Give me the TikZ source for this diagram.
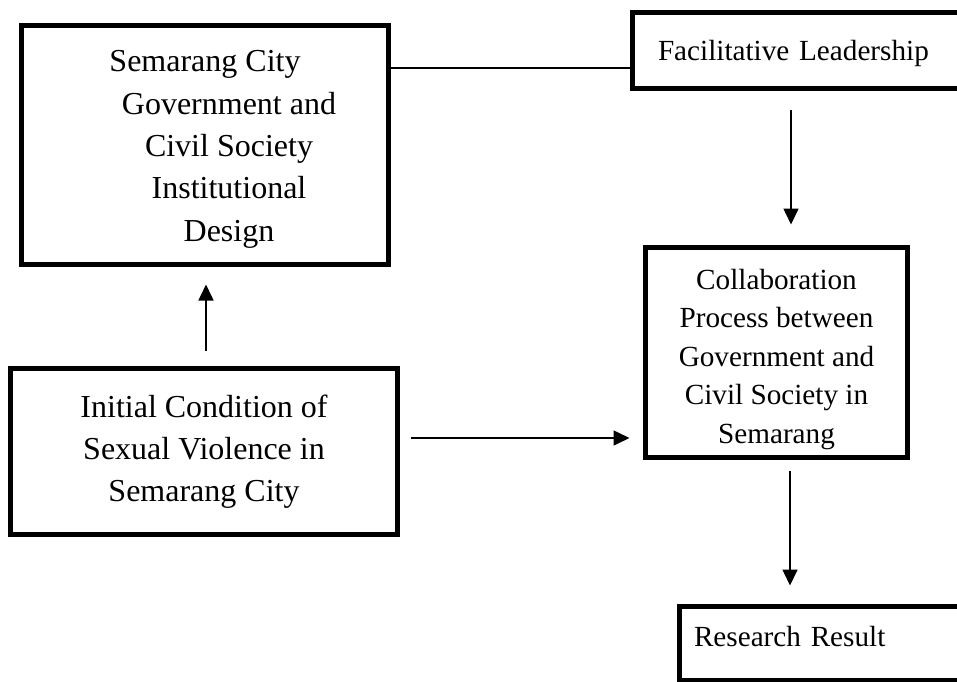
\documentclass[tikz,border=0pt]{standalone}
\usepackage{fontspec}
\setmainfont{Liberation Serif}
\usetikzlibrary{arrows.meta}
\begin{document}
\begin{tikzpicture}[x=1pt,y=-1pt,
 box/.style={draw,line width=5pt,rectangle,inner sep=0pt,align=center},
 big/.style={font=\fontsize{32}{42.3}\selectfont},
 small/.style={font=\fontsize{29.2}{38.5}\selectfont},
 conn/.style={line width=1.6pt},
 arr/.style={conn,-{Triangle[length=16pt,width=15pt]}}]
\useasboundingbox[fill=white] (0,0) rectangle (957,681);
% boxes
\node[box,big,minimum width=367pt,minimum height=239pt] (inst) at (205,145)
  {\rule{0pt}{30pt}Semarang City\\\hspace*{48pt}Government and\\\hspace*{48pt}Civil Society\\\hspace*{48pt}Institutional\\\hspace*{48pt}Design};
\node[box,small,minimum height=76pt,text width=330pt,align=left,inner xsep=25.5pt] (fac) at (823,50.5)
  {\rule{0pt}{26pt}Facilitative Leadership};
\node[box,big,minimum width=387pt,minimum height=166pt] (init) at (204,451.5)
  {Initial Condition of\\Sexual Violence in\\Semarang City};
\node[box,small,minimum width=262pt,minimum height=210pt] (collab) at (776.5,352.5)
  {\rule{0pt}{34pt}Collaboration\\Process between\\Government and\\Civil Society in\\Semarang};
\node[box,small,minimum height=74pt,text width=330pt,align=left,inner xsep=14.5pt] (res) at (859,643.5)
  {Research Result\rule[-14pt]{0pt}{14pt}};
% helper coordinates
\coordinate (yl) at (0,68);
\coordinate (xa) at (791,0);
\coordinate (xb) at (206,0);
\coordinate (yc) at (0,438);
\coordinate (xd) at (790,0);
% connectors
\draw[conn] (inst.east |- yl) -- (fac.west |- yl);
\draw[arr,shorten <=18.5pt,shorten >=20.5pt] (fac.south -| xa) -- (collab.north -| xa);
\draw[arr,shorten <=15.5pt,shorten >=17.5pt] (init.north -| xb) -- (inst.south -| xb);
\draw[arr,shorten <=10.5pt,shorten >=13.5pt] (init.east |- yc) -- (collab.west |- yc);
\draw[arr,shorten <=10.5pt,shorten >=18.5pt] (collab.south -| xd) -- (res.north -| xd);
\end{tikzpicture}
\end{document}
